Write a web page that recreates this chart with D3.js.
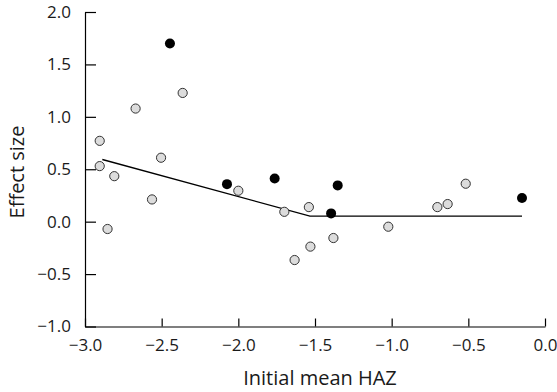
<!DOCTYPE html>
<html><head><meta charset="utf-8">
<script src="https://cdn.jsdelivr.net/npm/d3@7"></script>
<style>body{margin:0;background:#fff}svg{display:block}</style>
</head><body>
<script>
const grayX = [-2.904,-2.904,-2.809,-2.853,-2.67,-2.563,-2.504,-2.363,-2.0,-1.70,-1.633,-1.54,-1.53,-1.38,-1.022,-0.702,-0.635,-0.517];
const grayY = [0.771,0.53,0.434,-0.07,1.079,0.212,0.61,1.228,0.295,0.094,-0.366,0.139,-0.238,-0.156,-0.048,0.139,0.168,0.362];
const blackX = [-2.446,-2.074,-1.763,-1.395,-1.352,-0.15];
const blackY = [1.70,0.358,0.412,0.079,0.346,0.225];
const fitX = [-2.887,-1.533,-0.15];
const fitY = [0.593,0.053,0.053];
const xTicks = [-3,-2.5,-2,-1.5,-1,-0.5,0];
const yTicks = [-1,-0.5,0,0.5,1,1.5,2];

const W=557,H=392;
const svg=d3.select("body").append("svg").attr("width",W).attr("height",H);
const x=d3.scaleLinear().domain([-3,0]).range([85,545]);
const y=d3.scaleLinear().domain([-1,2]).range([326.5,12]);
const fmt=d=>d3.format(".1f")(d).replace("-","\u2212");
const font="'Open Sans', sans-serif";

const gx=svg.append("g").attr("transform",`translate(0,${y(-1)})`)
  .call(d3.axisBottom(x).tickValues(xTicks).tickFormat(fmt).tickSizeInner(-8).tickSizeOuter(0).tickPadding(12));
const gy=svg.append("g").attr("transform",`translate(${x(-3)},0)`)
  .call(d3.axisLeft(y).tickValues(yTicks).tickFormat(fmt).tickSizeInner(-11).tickSizeOuter(0).tickPadding(14));
[gx,gy].forEach(g=>{
  g.selectAll("path,line").attr("stroke","#000").attr("stroke-width",1.2);
  g.selectAll("text").attr("font-family",font).attr("font-size",17).attr("fill","#1a1a1a");
});

svg.append("path").datum(fitX.map((v,i)=>[v,fitY[i]]))
  .attr("d",d3.line().x(d=>x(d[0])).y(d=>y(d[1])))
  .attr("fill","none").attr("stroke","#000").attr("stroke-width",1.3);

svg.append("g").selectAll("circle").data(grayX.map((v,i)=>[v,grayY[i]])).join("circle")
  .attr("cx",d=>x(d[0])).attr("cy",d=>y(d[1])).attr("r",4.6)
  .attr("fill","#dcdcdc").attr("stroke","#333").attr("stroke-width",1);
svg.append("g").selectAll("circle").data(blackX.map((v,i)=>[v,blackY[i]])).join("circle")
  .attr("cx",d=>x(d[0])).attr("cy",d=>y(d[1])).attr("r",5)
  .attr("fill","#000");

svg.append("text").attr("x",320).attr("y",385).attr("text-anchor","middle")
  .attr("font-family",font).attr("font-size",20).attr("fill","#1a1a1a").text("Initial mean HAZ");
svg.append("text").attr("transform","translate(24,172) rotate(-90)").attr("text-anchor","middle")
  .attr("font-family",font).attr("font-size",20).attr("fill","#1a1a1a").text("Effect size");
</script>
</body></html>
